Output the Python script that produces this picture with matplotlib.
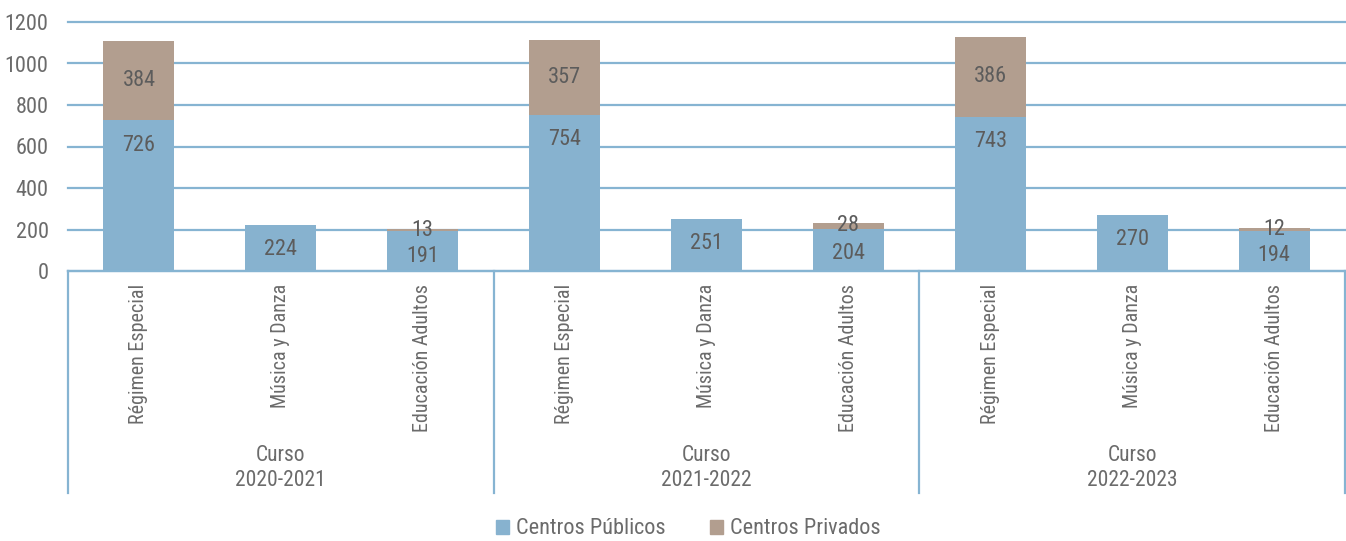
import numpy as np
import matplotlib.pyplot as plt
from matplotlib.patches import Patch
from matplotlib import font_manager

# pick a narrow sans font, like Arial Narrow in the original
available = {f.name for f in font_manager.fontManager.ttflist}
narrow = [f for f in ['Arial Narrow', 'Liberation Sans Narrow', 'Roboto Condensed',
                      'PT Sans Narrow', 'Archivo Narrow', 'Asap Condensed']
          if f in available]
plt.rcParams['font.family'] = narrow[:1] + ['DejaVu Sans']

cursos = ["Curso\n2020-2021", "Curso\n2021-2022", "Curso\n2022-2023"]
categorias = ["Régimen Especial", "Música y Danza", "Educación Adultos"]
publicos = [726, 224, 191, 754, 251, 204, 743, 270, 194]
privados = [384, 0, 13, 357, 0, 28, 386, 0, 12]

c_pub = '#87b2cf'
c_priv = '#b29e8f'
c_grid = '#86b4d2'
c_text = '#6b6b6b'

fig = plt.figure(figsize=(13.46, 5.41), dpi=100)
ax = fig.add_axes([68/1346, 1-271/541, 1277/1346, 249/541])

x = np.arange(len(publicos)) + 0.5
ax.bar(x, publicos, width=0.5, color=c_pub, zorder=3)
ax.bar(x, privados, width=0.5, bottom=publicos, color=c_priv, zorder=3)

# data labels: public at inside end, private centered
for xi, p, q in zip(x, publicos, privados):
    ax.text(xi, p - 120, str(p), ha='center', va='center', fontsize=16,
            color='#5c5c5c', zorder=4)
    if q > 0:
        ax.text(xi, p + q / 2, str(q), ha='center', va='center', fontsize=16,
                color='#5c5c5c', zorder=4)

ax.set_xlim(0, 9)
ax.set_ylim(0, 1200)
ax.set_yticks(range(0, 1201, 200))
ax.tick_params(axis='y', length=0, labelsize=16, labelcolor=c_text, pad=14)
ax.set_xticks([])
ax.yaxis.grid(True, color=c_grid, linewidth=1.6, zorder=1)
for gl in ax.get_ygridlines():
    gl.set_clip_on(False)
for s in ['left', 'right', 'top']:
    ax.spines[s].set_visible(False)
ax.spines['bottom'].set_color(c_grid)
ax.spines['bottom'].set_linewidth(1.6)
ax.spines['bottom'].set_zorder(5)

trans = ax.get_xaxis_transform()
# group separators
for xs in [0, 3, 6, 9]:
    ax.plot([xs, xs], [0, -222/249], color=c_grid, linewidth=1.6,
            transform=trans, clip_on=False)

# category labels
for i, xi in enumerate(x):
    ax.text(xi, -13/249, categorias[i % 3], rotation=90, ha='center', va='top',
            fontsize=14.5, color=c_text, transform=trans)

# group labels
for g, name in enumerate(cursos):
    ax.text(g * 3 + 1.5, -197/249, name, ha='center', va='center',
            fontsize=15.5, color=c_text, transform=trans, linespacing=1.25)

handles = [Patch(color=c_pub, label='Centros Públicos'),
           Patch(color=c_priv, label='Centros Privados')]
fig.legend(handles=handles, loc='center', bbox_to_anchor=(688/1346, 1-529/541),
           ncol=2, frameon=False, fontsize=16, labelcolor=c_text,
           handlelength=0.6, handleheight=0.6, handletextpad=0.3, columnspacing=2.0)

fig.savefig('out.png', dpi=100)
